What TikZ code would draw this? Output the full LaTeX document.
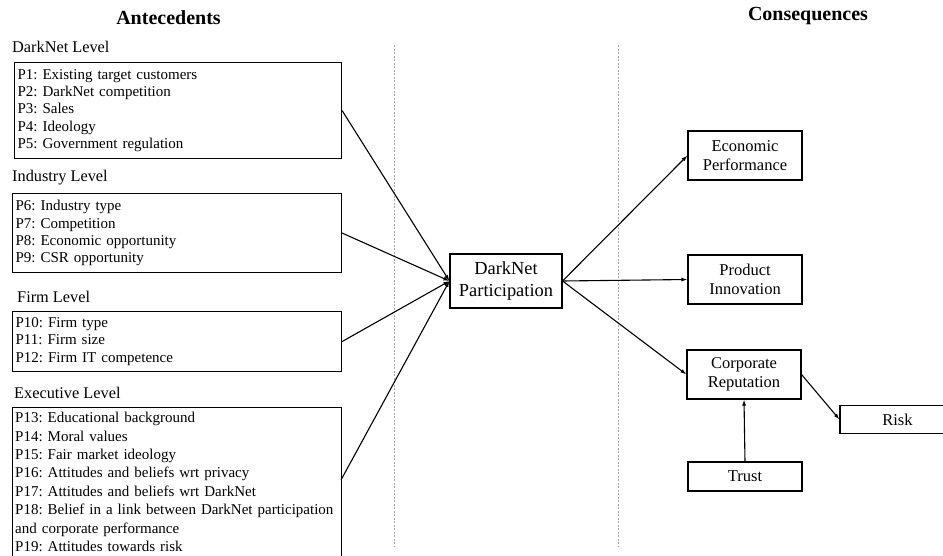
\documentclass[tikz,border=0pt]{standalone}
\usepackage{fontspec}
\setmainfont{Liberation Serif}
\usetikzlibrary{arrows.meta}
\begin{document}
\frenchspacing
\begin{tikzpicture}[x=1pt,y=-1pt,
  heading/.style={font=\fontsize{20}{24}\selectfont\bfseries, inner sep=0pt},
  levellabel/.style={font=\fontsize{16.3}{19}\selectfont, anchor=west, inner sep=0pt},
  listbox/.style={draw, line width=1.1pt, anchor=north west, align=left,
    inner xsep=3pt, inner ysep=0pt},
  listtext/.style={anchor=north west, align=left, inner xsep=3pt, inner ysep=2pt},
  conbox/.style={draw, line width=1.1pt, align=center, inner sep=0pt,
    font=\fontsize{16.5}{19.3}\selectfont},
  conn/.style={line width=1.1pt, -{Latex[length=6pt,width=4pt]}},
  sep/.style={gray!70, line width=0.6pt, dash pattern=on 2pt off 1.5pt}
]
\useasboundingbox (0,0) rectangle (943,555);

\node[heading] (ant) at (168.5,18) {Antecedents};
\node[heading] (con) at (808,16) {Consequences};

\coordinate (s1t) at (394,45); \coordinate (s1b) at (394,547);
\coordinate (s2t) at (618,45); \coordinate (s2b) at (618,547);
\draw[sep] (s1t) -- (s1b);
\draw[sep] (s2t) -- (s2b);

\node[levellabel] (l1) at (12,47) {DarkNet Level};
\node[levellabel] (l2) at (12,178) {Industry Level};
\node[levellabel] (l3) at (17,297) {Firm Level};
\node[levellabel] (l4) at (14,393) {Executive Level};

\node[listbox, minimum width=327pt, minimum height=96pt, text width=321pt,
  font=\fontsize{15}{17.2}\selectfont] (b1) at (14,62)
  {P1: Existing target customers\\P2: DarkNet competition\\P3: Sales\\P4: Ideology\\P5: Government regulation};
\node[listbox, minimum width=329pt, minimum height=79pt, text width=323pt,
  font=\fontsize{15}{17.2}\selectfont] (b2) at (12,193)
  {P6: Industry type\\P7: Competition\\P8: Economic opportunity\\P9: CSR opportunity};
\node[listbox, minimum width=329pt, minimum height=60pt, text width=323pt,
  font=\fontsize{15}{17.6}\selectfont] (b3) at (12,311)
  {P10: Firm type\\P11: Firm size\\P12: Firm IT competence};
\node[listbox, minimum width=329pt, minimum height=160pt] (b4) at (12,407) {};
\node[listtext, text width=323pt, font=\fontsize{15}{18.4}\selectfont] (b4t) at (12,410)
  {P13: Educational background\\P14: Moral values\\P15: Fair market ideology\\P16: Attitudes and beliefs wrt privacy\\P17: Attitudes and beliefs wrt DarkNet\\P18: Belief in a link between DarkNet participation\\and corporate performance\\P19: Attitudes towards risk};

\node[draw, line width=1.1pt, align=center, inner sep=0pt,
  minimum width=112pt, minimum height=54pt,
  font=\fontsize{18.4}{22}\selectfont] (dp) at (506,281) {DarkNet\\Participation};

\node[conbox, minimum width=114pt, minimum height=49pt] (ep) at (745,155.5) {Economic\\Performance};
\node[conbox, minimum width=114pt, minimum height=49pt] (pi) at (745,279.5) {Product\\Innovation};
\node[conbox, minimum width=114pt, minimum height=49pt] (cr) at (744,374.5) {Corporate\\Reputation};
\node[conbox, minimum width=114pt, minimum height=29pt] (tr) at (745,476.5) {Trust};
\node[conbox, minimum width=115pt, minimum height=28pt] (rk) at (897.5,419.5) {Risk};

\coordinate (b4out) at (341,480);
\draw[conn] (b1.east) -- (dp.west);
\draw[conn] (b2.east) -- (dp.west);
\draw[conn] (b3.east) -- (dp.west);
\draw[conn] (b4out) -- (dp.west);

\draw[conn] (dp.east) -- (ep.west);
\draw[conn] (dp.east) -- (pi.west);
\draw[conn] (dp.east) -- (cr.west);
\draw[conn] (cr.east) -- (rk.west);
\draw[conn] (tr.north) -- (cr.south);
\end{tikzpicture}
\end{document}
